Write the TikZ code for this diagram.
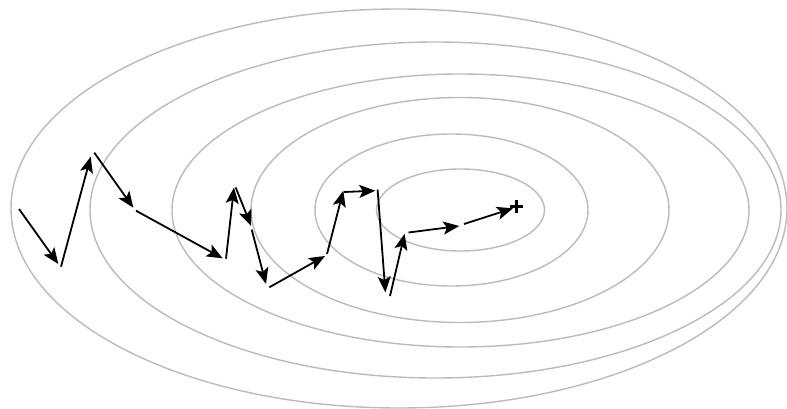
\documentclass[tikz,border=0pt]{standalone}
\usetikzlibrary{arrows.meta}
\definecolor{contour}{HTML}{BBBBBB}
\begin{document}
\begin{tikzpicture}[x=1pt,y=-1pt,
  level/.style={draw=contour,line width=1.4pt},
  stepline/.style={draw=black,line width=1.8pt,-{Stealth[length=16pt,width=13pt,inset=3.5pt]}},
  goal/.style={draw=black,line width=3pt}]
\useasboundingbox (0,0) rectangle (787,409);
% contours
\draw[level] (399,208.5) ellipse [x radius=388pt, y radius=199.5pt];
\draw[level] (435.5,210) ellipse [x radius=345.5pt, y radius=168pt];
\draw[level] (460.5,210.5) ellipse [x radius=288.5pt, y radius=136.5pt];
\draw[level] (460,210) ellipse [x radius=209pt, y radius=112.5pt];
\draw[level] (451.5,210) ellipse [x radius=136.5pt, y radius=76pt];
\draw[level] (460.5,210) ellipse [x radius=84pt, y radius=41pt];
% path points
\coordinate (s1) at (19,209);    \coordinate (e1) at (58.3,264);
\coordinate (s2) at (61,266.7);  \coordinate (e2) at (90.7,156.7);
\coordinate (s3) at (94.3,152.7);\coordinate (e3) at (133.3,207.7);
\coordinate (s4) at (136,210.7); \coordinate (e4) at (222.7,258.3);
\coordinate (s5) at (226,258.7); \coordinate (e5) at (234,187.5);
\coordinate (s6) at (235.7,187.5);\coordinate (e6) at (251.2,226);
\coordinate (s7) at (251.7,229.6);\coordinate (e7) at (266,284);
\coordinate (s8) at (269.3,287.3);\coordinate (e8) at (325,256);
\coordinate (s9) at (327,254);   \coordinate (e9) at (343.3,190.7);
\coordinate (s10) at (344,192);  \coordinate (e10) at (375.3,190.7);
\coordinate (s11) at (377.6,189.6);\coordinate (e11) at (385.4,292.5);
\coordinate (s12) at (390,296);  \coordinate (e12) at (404.6,233.8);
\coordinate (s13) at (408.5,232.5);\coordinate (e13) at (459.3,226);
\coordinate (s14) at (464,224);  \coordinate (e14) at (513,208.3);
\coordinate (g) at (516.3,206);
\foreach \i in {1,...,14} {\draw[stepline] (s\i) -- (e\i);}
\draw[goal] ([xshift=-6.5pt]g) -- ([xshift=6.5pt]g);
\draw[goal] ([yshift=-6.5pt]g) -- ([yshift=6.5pt]g);
\end{tikzpicture}
\end{document}
